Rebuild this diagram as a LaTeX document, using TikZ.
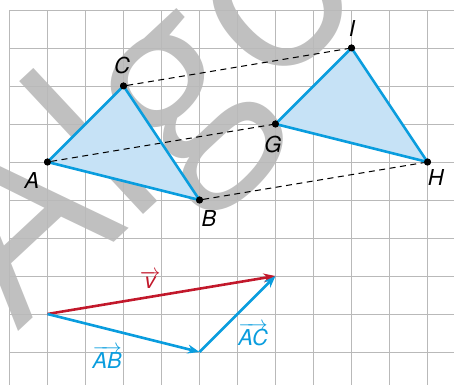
\documentclass[tikz,border=0pt]{standalone}
\usepackage{fontspec}
\setmainfont{TeX Gyre Heros}
\newfontfamily\markfont{Open Sans}
\usetikzlibrary{arrows.meta}
\definecolor{gridgray}{HTML}{B9B9B9}
\definecolor{markgray}{HTML}{C0C0C0}
\definecolor{trblue}{HTML}{0A9DDE}
\definecolor{trfill}{HTML}{C6E2F6}
\definecolor{vecred}{HTML}{C2182B}
\newcommand{\vecname}[1]{$\overrightarrow{\mbox{\itshape #1}}$}

\begin{document}
\begin{tikzpicture}[x=38bp,y=38bp,>={Stealth[length=12bp,width=9bp]},
  every node/.style={font=\fontsize{22}{22}\selectfont\itshape},
  pt/.style={circle,fill=black,inner sep=0pt,minimum size=7bp},
  side/.style={trblue,line width=2.6bp,line join=round},
  link/.style={dash pattern=on 6bp off 4.5bp,line width=1bp},
  vec/.style={->,line width=2.6bp}]
\useasboundingbox (-0.25,-0.868) rectangle (11.697,9.263);
% watermark
\begin{scope}
\clip (-0.25,-0.868) rectangle (11.697,9.263);
\node[markgray,rotate=43,anchor=base west,inner sep=0pt,font=\markfont\fontsize{240}{240}\selectfont] (mark) at (0.22,0.53) {Algo};
\end{scope}
% grid
\draw[gridgray,line width=0.8bp,step=1] (0,-0.868) grid (11.697,9);
% points
\node[pt] (A) at (1,5) {};
\node[pt] (B) at (5,4) {};
\node[pt] (C) at (3,7) {};
\node[pt] (G) at (7,6) {};
\node[pt] (H) at (11,5) {};
\node[pt] (I) at (9,8) {};
\fill[trfill] (A.center) -- (B.center) -- (C.center) -- cycle;
\fill[trfill] (G.center) -- (H.center) -- (I.center) -- cycle;
\draw[link] (C) -- (I);
\draw[link] (A) -- (G);
\draw[link] (B) -- (H);
\draw[side] (A.center) -- (B.center) -- (C.center) -- cycle;
\draw[side] (G.center) -- (H.center) -- (I.center) -- cycle;
\foreach \p in {A,B,C,G,H,I} \node[pt] at (\p) {};
\node (labA) at (0.59,4.5) {A};
\node (labB) at (5.25,3.5) {B};
\node (labC) at (2.96,7.53) {C};
\node (labG) at (6.93,5.45) {G};
\node (labH) at (11.22,4.58) {H};
\node (labI) at (9.01,8.5) {I};
% vectors
\coordinate (O) at (1,1);
\coordinate (P) at (5,0);
\coordinate (V) at (7,2);
\draw[vec,vecred] (O) -- (V);
\draw[vec,trblue] (O) -- (P);
\draw[vec,trblue] (P) -- (V);
\node[vecred] (labv) at (3.7,1.9) {\vecname{v}};
\node[trblue] (labAB) at (2.57,-0.14) {\vecname{AB}};
\node[trblue] (labAC) at (6.41,0.47) {\vecname{AC}};
\end{tikzpicture}
\end{document}
